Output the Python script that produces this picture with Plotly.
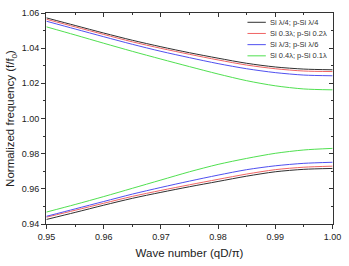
import plotly.graph_objects as go

q = [0.95, 0.955, 0.96, 0.965, 0.97, 0.975, 0.98, 0.985, 0.99, 0.995, 1.00]

names = ["Si λ/4; p-Si λ/4", "Si 0.3λ; p-Si 0.2λ", "Si λ/3; p-Si λ/6", "Si 0.4λ; p-Si 0.1λ"]
colors = ["#303030", "#f06464", "#5050f0", "#50e050"]

upper_black = [1.0572, 1.0529, 1.0486, 1.0445, 1.0408, 1.0374, 1.0343, 1.0314, 1.0293, 1.0281, 1.0277]
upper_red = [1.0564, 1.0521, 1.0478, 1.0436, 1.0399, 1.0365, 1.0333, 1.0304, 1.0283, 1.0270, 1.0267]
upper_blue = [1.0553, 1.0509, 1.0465, 1.0422, 1.0382, 1.0346, 1.0312, 1.0283, 1.0261, 1.0247, 1.0243]
upper_green = [1.0521, 1.0475, 1.0428, 1.0382, 1.0338, 1.0295, 1.0253, 1.0215, 1.0186, 1.0168, 1.0163]

lower_black = [0.9426, 0.9466, 0.9507, 0.9546, 0.9580, 0.9612, 0.9642, 0.9672, 0.9697, 0.9711, 0.9716]
lower_red = [0.9439, 0.9478, 0.9518, 0.9557, 0.9591, 0.9623, 0.9654, 0.9684, 0.9709, 0.9723, 0.9729]
lower_blue = [0.9444, 0.9486, 0.9528, 0.9570, 0.9608, 0.9644, 0.9678, 0.9709, 0.9731, 0.9745, 0.9751]
lower_green = [0.9468, 0.9511, 0.9556, 0.9603, 0.9650, 0.9697, 0.9739, 0.9773, 0.9802, 0.9821, 0.9830]

x_ticks = [0.95, 0.96, 0.97, 0.98, 0.99, 1.00]
y_ticks = [0.94, 0.96, 0.98, 1.00, 1.02, 1.04, 1.06]

uppers = [upper_black, upper_red, upper_blue, upper_green]
lowers = [lower_black, lower_red, lower_blue, lower_green]

fig = go.Figure()
for i in range(4):
    for ys in (uppers[i], lowers[i]):
        fig.add_trace(go.Scatter(x=q, y=ys, mode="lines", name=names[i], legendgroup=names[i],
                                 showlegend=False, hoverinfo="skip",
                                 line=dict(color=colors[i], width=1, shape="spline", smoothing=0.8)))

# manual compact legend (upper right, inside plot)
leg_y = [0.956, 0.903, 0.850, 0.797]
for i in range(4):
    fig.add_shape(type="line", xref="paper", yref="paper", x0=0.702, x1=0.766,
                  y0=leg_y[i], y1=leg_y[i], line=dict(color=colors[i], width=1))
    fig.add_annotation(xref="paper", yref="paper", x=0.773, y=leg_y[i], text=names[i],
                       showarrow=False, xanchor="left", yanchor="middle",
                       font=dict(size=7.5, color="#333"))

font = "Liberation Sans, Arial, sans-serif"
fig.update_layout(
    width=349, height=266,
    margin=dict(l=46, r=8, t=11, b=38),
    paper_bgcolor="white", plot_bgcolor="white",
    font=dict(family=font, size=9, color="#222"),
    showlegend=False,
    xaxis=dict(range=[0.9499, 1.0001], tickvals=x_ticks, tickformat=".2f", showgrid=False, zeroline=False,
               showline=True, linecolor="#333", linewidth=1, ticks="outside", ticklen=4,
               tickcolor="#333", ticklabeloverflow="allow",
               minor=dict(ticks="outside", dtick=0.005, ticklen=2, tickcolor="#333"),
               title=dict(text="Wave number (qD/π)", font=dict(size=11.5), standoff=8)),
    yaxis=dict(range=[0.94, 1.06], tickvals=y_ticks, tickformat=".2f", showgrid=False, zeroline=False,
               showline=True, linecolor="#333", linewidth=1, ticks="outside", ticklen=4,
               tickcolor="#333", ticklabeloverflow="allow",
               minor=dict(ticks="outside", dtick=0.01, ticklen=2, tickcolor="#333"),
               title=dict(text="Normalized frequency (f/f<sub>0</sub>)", font=dict(size=11.5), standoff=4)),
    xaxis2=dict(range=[0.9499, 1.0001], overlaying="x", side="top", matches="x", tickvals=x_ticks,
                showticklabels=False, showgrid=False, zeroline=False, showline=True,
                linecolor="#333", linewidth=1, ticks="inside", ticklen=4, tickcolor="#333",
                minor=dict(ticks="inside", dtick=0.005, ticklen=2, tickcolor="#333")),
    yaxis2=dict(range=[0.94, 1.06], overlaying="y", side="right", matches="y", tickvals=y_ticks,
                showticklabels=False, showgrid=False, zeroline=False, showline=True,
                linecolor="#333", linewidth=1, ticks="inside", ticklen=4, tickcolor="#333",
                minor=dict(ticks="inside", dtick=0.01, ticklen=2, tickcolor="#333")),
)
fig.add_trace(go.Scatter(x=[None], y=[None], xaxis="x2", yaxis="y2", showlegend=False, hoverinfo="skip"))

fig.write_html("out.html")
